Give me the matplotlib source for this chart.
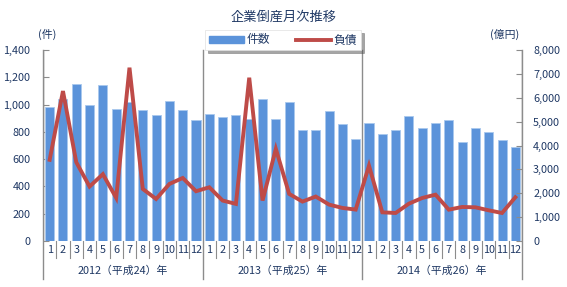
import matplotlib
matplotlib.use("Agg")
import matplotlib.pyplot as plt
import matplotlib.transforms as mtransforms
from matplotlib.patches import Patch
from matplotlib.lines import Line2D

plt.rcParams['font.family'] = ['Noto Sans CJK JP', 'DejaVu Sans']

months = [str(m) for m in range(1, 13)] * 3
years = ["2012（平成24）年", "2013（平成25）年", "2014（平成26）年"]
counts = [980, 1040, 1150, 1000, 1145, 967, 1018, 960, 925, 1026, 960, 889,
          933, 908, 925, 896, 1043, 896, 1018, 815, 815, 955, 859, 750,
          865, 782, 814, 914, 831, 865, 887, 723, 829, 799, 741, 687]
debt = [3400, 6280, 3300, 2280, 2800, 1806, 7260, 2180, 1760, 2390, 2640, 2085,
        2250, 1694, 1554, 6840, 1694, 3860, 1973, 1651, 1862, 1525, 1385, 1316,
        3156, 1201, 1173, 1564, 1802, 1941, 1313, 1425, 1411, 1285, 1173, 1830]
left_ticks = [0, 200, 400, 600, 800, 1000, 1200, 1400]
right_ticks = [0, 1000, 2000, 3000, 4000, 5000, 6000, 7000, 8000]

txt = '#1F3864'
grid_c = '#8C8C8C'
bar_c = '#5B93DA'
line_c = '#BE4B48'

fig = plt.figure(figsize=(5.67, 2.87), dpi=100)
ax = fig.add_axes([43/567, 1-241/287, (522-43)/567, (241-50)/287])
ax2 = ax.twinx()

x = list(range(len(counts)))
ax.bar(x, counts, width=0.68, color=bar_c, edgecolor='#A9C8EE', linewidth=0.6, zorder=2)
ax2.plot(x, debt, color=line_c, linewidth=2.8, solid_joinstyle='miter', zorder=3)

ax.set_xlim(-0.5, len(counts) - 0.5)
ax.set_ylim(0, 1400)
ax2.set_ylim(0, 8000)
ax.set_yticks(left_ticks)
ax.set_yticklabels([f"{v:,}" for v in left_ticks])
ax2.set_yticks(right_ticks)
ax2.set_yticklabels([f"{v:,}" for v in right_ticks])

for a in (ax, ax2):
    for s in a.spines.values():
        s.set_visible(False)
ax.set_zorder(ax2.get_zorder() - 1)
ax2.patch.set_visible(False)

ax.tick_params(axis='y', direction='in', length=4, color=grid_c, labelcolor=txt, labelsize=7.8, pad=9)
ax2.tick_params(axis='y', direction='in', length=4, color=grid_c, labelcolor=txt, labelsize=7.8, pad=8)
ax.set_xticks(x)
ax.set_xticklabels(months, fontsize=7.8, color=txt)
ax.tick_params(axis='x', length=0, pad=3)

# left and right axis lines
ax.axvline(-0.5, color=grid_c, lw=1, zorder=4)
ax.axvline(len(counts) - 0.5, color=grid_c, lw=1, zorder=4)

trans = mtransforms.blended_transform_factory(ax.transData, ax.transAxes)
for i in range(len(counts) + 1):
    xb = i - 0.5
    if i % 12 == 0:
        ax.plot([xb, xb], [1.0, -0.2], color=grid_c, lw=1, transform=trans, clip_on=False, zorder=4)
    else:
        ax.plot([xb, xb], [0, -0.09], color=grid_c, lw=0.8, transform=trans, clip_on=False, zorder=4)

for k, yl in enumerate(years):
    ax.text(k * 12 + 5.5, -0.155, yl, transform=trans, ha='center', va='center', fontsize=7.8, color=txt)

fig.text(284/567, 1-17/287, "企業倒産月次推移", ha='center', va='center', fontsize=9.5, color=txt)
fig.text(47/567, 1-34/287, "(件)", ha='center', va='center', fontsize=7.8, color=txt)
fig.text(505/567, 1-34/287, "(億円)", ha='center', va='center', fontsize=7.8, color=txt)

handles = [Patch(facecolor=bar_c, edgecolor=bar_c), Line2D([0], [0], color=line_c, lw=2.8)]
leg = fig.legend(handles, ["件数", "負債"], loc='center', bbox_to_anchor=(283/567, 1-40/287),
                 ncol=2, frameon=True, shadow=True, fontsize=8.5, handlelength=3.0,
                 handleheight=0.5, columnspacing=2.2, borderpad=0.3, handletextpad=0.2,
                 fancybox=False)
leg.get_frame().set_edgecolor('#E0E0E0')
leg.get_frame().set_linewidth(0.5)
for t in leg.get_texts():
    t.set_color(txt)

fig.savefig("out.png", dpi=100)
